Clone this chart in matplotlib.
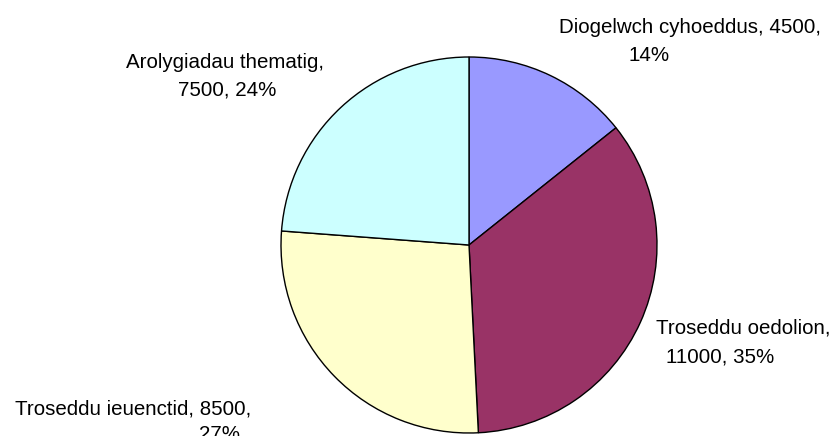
import matplotlib
matplotlib.use("Agg")
from matplotlib import pyplot as plt

categories = ['Diogelwch cyhoeddus', 'Troseddu oedolion', 'Troseddu ieuenctid', 'Arolygiadau thematig']
values = [4500, 11000, 8500, 7500]
colors = ['#9999FF', '#993366', '#FFFFCC', '#CCFFFF']

W, H = 837, 436
plt.rcParams['font.family'] = ['Liberation Sans', 'DejaVu Sans']

fig = plt.figure(figsize=(W / 100, H / 100), dpi=100)
fig.patch.set_facecolor('white')

# pie centre (469, 245) px, radius 188 px
cx, cy, r = 469, 245, 188
ax = fig.add_axes([(cx - r) / W, (H - cy - r) / H, 2 * r / W, 2 * r / H])
ax.pie(values, colors=colors, startangle=90, counterclock=False,
       wedgeprops=dict(edgecolor='black', linewidth=1.0))
ax.set_xlim(-1, 1)
ax.set_ylim(-1, 1)
ax.set_aspect('equal')
ax.axis('off')

total = sum(values)
pcts = [round(v * 100 / total) for v in values]

# label text split in two lines like the original, with pixel positions (x centre, baseline y)
line1 = [f'{categories[0]}, {values[0]},', f'{categories[1]},',
         f'{categories[2]}, {values[2]},', f'{categories[3]},']
line2 = [f'{pcts[0]}%', f'{values[1]}, {pcts[1]}%',
         f'{pcts[2]}%', f'{values[3]}, {pcts[3]}%']
pos1 = [(690, 33), (743, 334), (133, 414), (225, 68)]
pos2 = [(649, 61), (720, 362), (219, 440), (227, 95)]

fs = 14.8
for s, (x, y) in zip(line1, pos1):
    fig.text(x / W, 1 - y / H, s, ha='center', va='baseline', fontsize=fs)
for s, (x, y) in zip(line2, pos2):
    fig.text(x / W, 1 - y / H, s, ha='center', va='baseline', fontsize=fs)

fig.savefig('out.png', dpi=100)
